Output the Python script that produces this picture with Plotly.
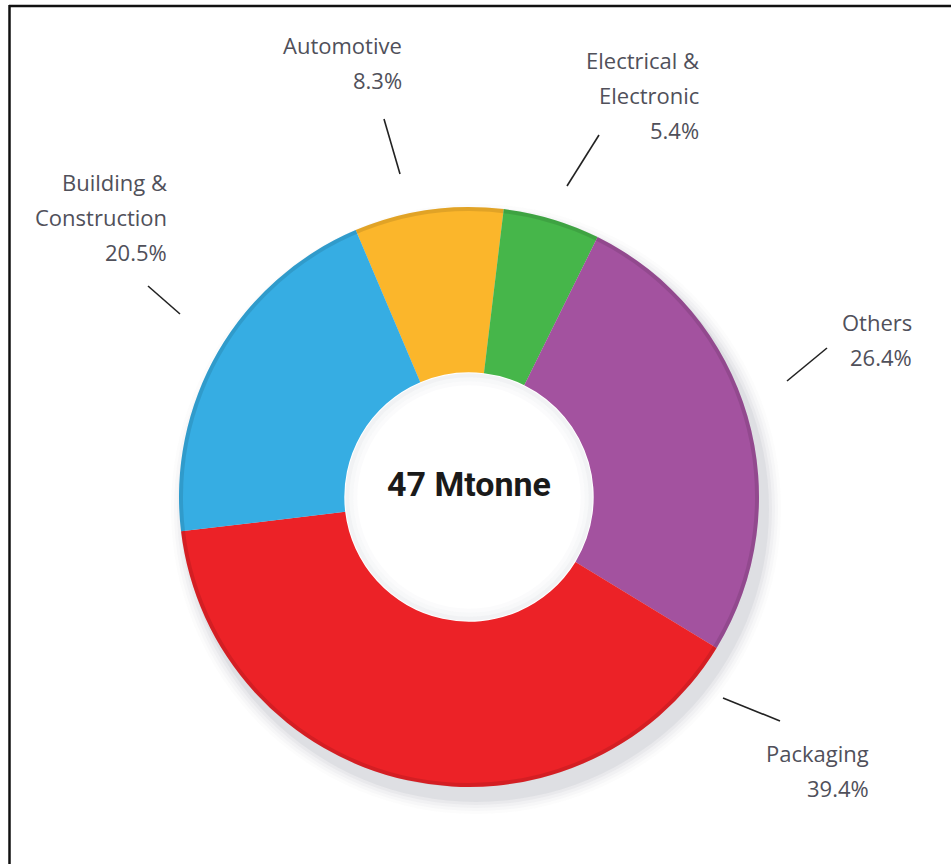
import plotly.graph_objects as go

# Consumption by application sector (share of total, %)
sectors = ["Automotive", "Electrical &<br>Electronic", "Others", "Packaging", "Building &<br>Construction"]
shares = [8.3, 5.4, 26.4, 39.4, 20.5]
colors = ["#FBB62B", "#46B64A", "#A3529F", "#EC2227", "#36ADE3"]
total_label = "47 Mtonne"

W, H = 951, 864
CX, CY, R = 469, 497, 290
HOLE = 0.43


def px(x):
    return x / W


def py(y):
    return 1 - y / H


def circle(cx, cy, r, **kw):
    return dict(type="circle", xref="paper", yref="paper",
                x0=px(cx - r), x1=px(cx + r), y0=py(cy + r), y1=py(cy - r), **kw)


fig = go.Figure()

fig.add_trace(go.Pie(
    labels=[s.replace("<br>", " ") for s in sectors],
    values=shares,
    sort=False,
    direction="clockwise",
    rotation=-23,
    hole=HOLE,
    marker=dict(colors=colors, line=dict(width=0)),
    textinfo="none",
    hoverinfo="label+percent",
    showlegend=False,
    domain=dict(x=[px(CX - R), px(CX + R)], y=[py(CY + R), py(CY - R)]),
))

shapes = []
# soft drop shadow beneath the ring
for k, op in [(30, 0.02), (24, 0.03), (18, 0.04), (12, 0.05), (6, 0.07)]:
    shapes.append(circle(CX + 7, CY + 12, R + k / 2, layer="below",
                         fillcolor=f"rgba(90,100,115,{op})", line=dict(width=0)))
hr = R * HOLE
# keep the centre of the ring clean
shapes.append(circle(CX, CY, hr + 2, layer="below", fillcolor="white", line=dict(width=0)))
# darker rim along the outer edge of the ring
shapes.append(circle(CX, CY, R - 2, line=dict(color="rgba(0,0,0,0.10)", width=4)))
# soft inner shading around the hole
for d, op in [(3, 0.10), (7, 0.06), (11, 0.03)]:
    shapes.append(circle(CX, CY, hr - d, line=dict(color=f"rgba(120,130,145,{op})", width=4)))

# frame lines (top and left)
shapes.append(dict(type="line", xref="paper", yref="paper",
                   x0=px(9), x1=1, y0=py(6), y1=py(6),
                   line=dict(color="#111111", width=2.5)))
shapes.append(dict(type="line", xref="paper", yref="paper",
                   x0=px(9.5), x1=px(9.5), y0=py(5), y1=0,
                   line=dict(color="#111111", width=2.5)))

# leader lines next to each label
leaders = [
    ((384, 119), (400, 174)),
    ((599, 135), (567, 186)),
    ((827, 348), (787, 381)),
    ((723, 698), (780, 721)),
    ((148, 286), (180, 314)),
]
for (x0, y0), (x1, y1) in leaders:
    shapes.append(dict(type="line", xref="paper", yref="paper",
                       x0=px(x0), y0=py(y0), x1=px(x1), y1=py(y1),
                       line=dict(color="#222222", width=1.6)))

# label anchor (right edge x, first line centre y) per sector
label_pos = [(404, 45), (701, 60), (914, 322), (871, 753), (169, 182)]
line_gap = 35
annotations = []
font = dict(family="Open Sans", size=22, color="#50505a")
for name, val, (rx, ty) in zip(sectors, shares, label_pos):
    lines = name.split("<br>") + [f"{val:.1f}%"]
    for i, ln in enumerate(lines):
        annotations.append(dict(
            x=px(rx), y=py(ty + i * line_gap), xref="paper", yref="paper",
            text=ln, showarrow=False, xanchor="right", yanchor="middle",
            font=font,
        ))

annotations.append(dict(
    x=px(CX), y=py(484), xref="paper", yref="paper",
    text=f"<b>{total_label}</b>", showarrow=False,
    xanchor="center", yanchor="middle",
    font=dict(family="Roboto", size=34, color="#1a1a1a"),
))

fig.update_layout(
    width=W, height=H,
    margin=dict(l=0, r=0, t=0, b=0),
    paper_bgcolor="white",
    plot_bgcolor="white",
    shapes=shapes,
    annotations=annotations,
)

fig.write_html("out.html")
